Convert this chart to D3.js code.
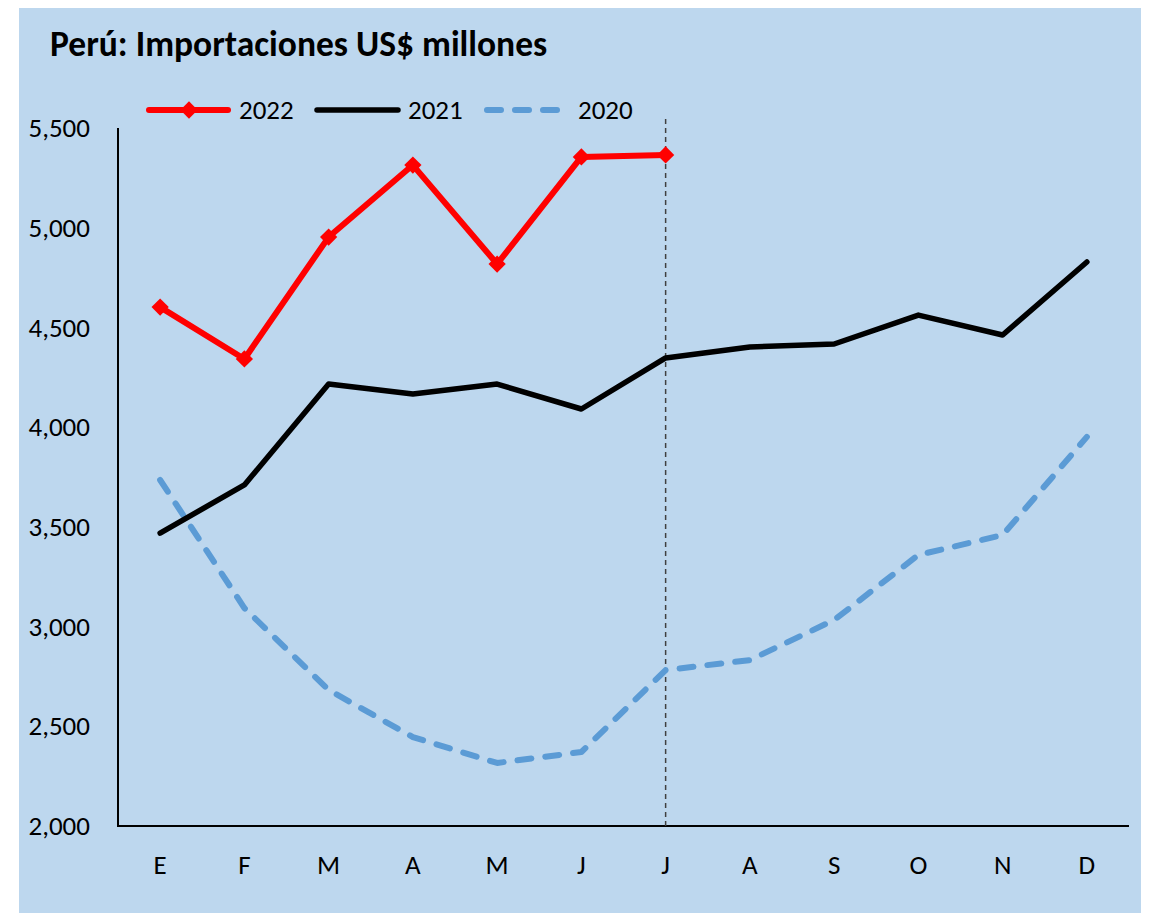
<html>
<head>
<meta charset="utf-8">
<style>
  body { margin: 0; background: #fff; }
  text { font-family: Carlito, Calibri, "Open Sans", sans-serif; }
</style>
</head>
<body>
<div id="chart"></div>
<script src="https://cdnjs.cloudflare.com/ajax/libs/d3/7.8.5/d3.min.js"></script>
<script>
// meses
var months = ["E", "F", "M", "A", "M", "J", "J", "A", "S", "O", "N", "D"];
var yTicks = [2000, 2500, 3000, 3500, 4000, 4500, 5000, 5500];

// valores (US$ millones)
var values2022 = [4602, 4342, 4953, 5314, 4818, 5355, 5365];
var values2021 = [3469, 3710, 4216, 4166, 4216, 4091, 4347, 4402, 4417, 4562, 4462, 4828];
var values2020 = [3735, 3093, 2682, 2446, 2316, 2371, 2782, 2832, 3033, 3359, 3459, 3951];

var markMonth = 6; // linea vertical en julio

(function() {
  var width = 1154, height = 913;
  var left = 118, right = 1129, top = 128, bottom = 826;
  var fs = 27;

  var svg = d3.select("#chart").append("svg")
    .attr("width", width)
    .attr("height", height);

  // fondo celeste
  svg.append("rect")
    .attr("x", 19).attr("y", 8)
    .attr("width", 1122).attr("height", 905)
    .attr("fill", "#bdd7ee");

  var x = d3.scaleBand().domain(d3.range(12)).range([left, right]);
  var y = d3.scaleLinear().domain([2000, 5500]).range([bottom, top]);
  var cx = function(i) { return x(i) + x.bandwidth() / 2; };

  svg.append("text")
    .attr("x", 50).attr("y", 56)
    .attr("font-size", 35.5)
    .attr("font-weight", "bold")
    .text("Perú: Importaciones US$ millones");

  // ejes
  var yAxis = svg.append("g")
    .attr("transform", "translate(" + left + ",0)")
    .call(d3.axisLeft(y).tickValues(yTicks).tickSize(0).tickPadding(28)
      .tickFormat(d3.format(",")));
  yAxis.select(".domain").remove();
  yAxis.selectAll("text").attr("font-size", fs).attr("fill", "#000")
    .style("font-family", "Carlito, Calibri, 'Open Sans', sans-serif");

  var xAxis = svg.append("g")
    .attr("transform", "translate(0," + bottom + ")")
    .call(d3.axisBottom(x).tickSize(0).tickPadding(29)
      .tickFormat(function(i) { return months[i]; }));
  xAxis.select(".domain").remove();
  xAxis.selectAll("text").attr("font-size", fs).attr("fill", "#000")
    .style("font-family", "Carlito, Calibri, 'Open Sans', sans-serif");

  svg.append("line")
    .attr("x1", left).attr("x2", left)
    .attr("y1", top).attr("y2", bottom + 1)
    .attr("stroke", "#000").attr("stroke-width", 2);
  svg.append("line")
    .attr("x1", left - 1).attr("x2", right)
    .attr("y1", bottom).attr("y2", bottom)
    .attr("stroke", "#000").attr("stroke-width", 2);

  // linea vertical punteada
  svg.append("line")
    .attr("x1", cx(markMonth)).attr("x2", cx(markMonth))
    .attr("y1", 119).attr("y2", bottom)
    .attr("stroke", "#404040").attr("stroke-width", 1.5)
    .attr("stroke-dasharray", "5,4");

  var line = d3.line()
    .x(function(d, i) { return cx(i); })
    .y(function(d) { return y(d); });

  svg.append("path")
    .attr("d", line(values2020))
    .attr("fill", "none")
    .attr("stroke", "#5b9bd5")
    .attr("stroke-width", 6)
    .attr("stroke-linecap", "round")
    .attr("stroke-linejoin", "round")
    .attr("stroke-dasharray", "14,14");

  svg.append("path")
    .attr("d", line(values2021))
    .attr("fill", "none")
    .attr("stroke", "#000")
    .attr("stroke-width", 5.5)
    .attr("stroke-linecap", "round")
    .attr("stroke-linejoin", "round");

  svg.append("path")
    .attr("d", line(values2022))
    .attr("fill", "none")
    .attr("stroke", "#ff0000")
    .attr("stroke-width", 6)
    .attr("stroke-linecap", "round")
    .attr("stroke-linejoin", "round");

  var diamond = d3.symbol().type(d3.symbolDiamond2).size(190);
  svg.selectAll(".m22")
    .data(values2022)
    .enter().append("path")
    .attr("class", "m22")
    .attr("d", diamond)
    .attr("transform", function(d, i) { return "translate(" + cx(i) + "," + y(d) + ")"; })
    .attr("fill", "#ff0000");

  // leyenda
  var ly = 110;
  var leg = svg.append("g");
  leg.append("line").attr("x1", 149).attr("x2", 228).attr("y1", ly).attr("y2", ly)
    .attr("stroke", "#ff0000").attr("stroke-width", 6).attr("stroke-linecap", "round");
  leg.append("path").attr("d", diamond)
    .attr("transform", "translate(189," + ly + ")").attr("fill", "#ff0000");
  leg.append("text").attr("x", 239).attr("y", ly + 9).attr("font-size", fs).text("2022");

  leg.append("line").attr("x1", 317).attr("x2", 398).attr("y1", ly).attr("y2", ly)
    .attr("stroke", "#000").attr("stroke-width", 5.5).attr("stroke-linecap", "round");
  leg.append("text").attr("x", 408).attr("y", ly + 9).attr("font-size", fs).text("2021");

  leg.append("line").attr("x1", 487).attr("x2", 560).attr("y1", ly).attr("y2", ly)
    .attr("stroke", "#5b9bd5").attr("stroke-width", 6).attr("stroke-linecap", "round")
    .attr("stroke-dasharray", "14,14");
  leg.append("text").attr("x", 578).attr("y", ly + 9).attr("font-size", fs).text("2020");
})();
</script>
</body>
</html>
